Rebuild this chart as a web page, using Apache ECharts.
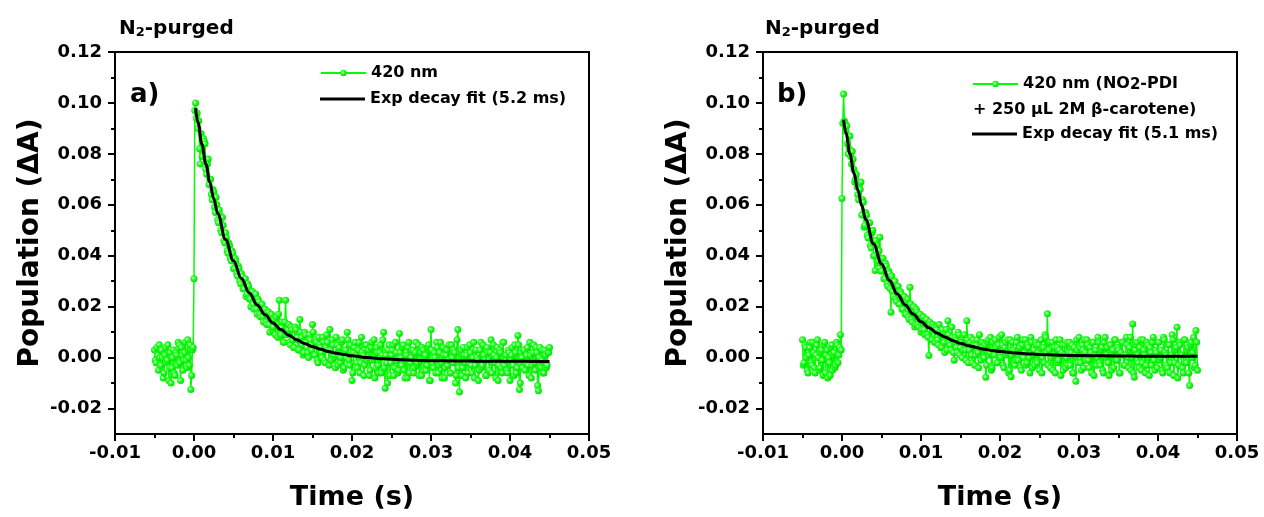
<!DOCTYPE html>
<html>
<head>
<meta charset="utf-8">
<script src="https://cdn.jsdelivr.net/npm/echarts@6/dist/echarts.min.js"></script>
<style>html,body{margin:0;padding:0;background:#fff;}#c{width:1264px;height:517px;}</style>
</head>
<body>
<div id="c"></div>
<script>
// ---- data ----
// samples on the even 0.2 ms grid
const time = [
-0.0050,-0.0048,-0.0046,-0.0044,-0.0042,-0.0040,-0.0038,-0.0036,-0.0034,-0.0032,
-0.0030,-0.0028,-0.0026,-0.0024,-0.0022,-0.0020,-0.0018,-0.0016,-0.0014,-0.0012,
-0.0010,-0.0008,-0.0006,-0.0004,-0.0002,
0.0000,0.0002,0.0004,0.0006,0.0008,0.0010,0.0012,0.0014,0.0016,0.0018,
0.0020,0.0022,0.0024,0.0026,0.0028,0.0030,0.0032,0.0034,0.0036,0.0038,
0.0040,0.0042,0.0044,0.0046,0.0048,0.0050,0.0052,0.0054,0.0056,0.0058,
0.0060,0.0062,0.0064,0.0066,0.0068,0.0070,0.0072,0.0074,0.0076,0.0078,
0.0080,0.0082,0.0084,0.0086,0.0088,0.0090,0.0092,0.0094,0.0096,0.0098,
0.0100,0.0102,0.0104,0.0106,0.0108,0.0110,0.0112,0.0114,0.0116,0.0118,
0.0120,0.0122,0.0124,0.0126,0.0128,0.0130,0.0132,0.0134,0.0136,0.0138,
0.0140,0.0142,0.0144,0.0146,0.0148,0.0150,0.0152,0.0154,0.0156,0.0158,
0.0160,0.0162,0.0164,0.0166,0.0168,0.0170,0.0172,0.0174,0.0176,0.0178,
0.0180,0.0182,0.0184,0.0186,0.0188,0.0190,0.0192,0.0194,0.0196,0.0198,
0.0200,0.0202,0.0204,0.0206,0.0208,0.0210,0.0212,0.0214,0.0216,0.0218,
0.0220,0.0222,0.0224,0.0226,0.0228,0.0230,0.0232,0.0234,0.0236,0.0238,
0.0240,0.0242,0.0244,0.0246,0.0248,0.0250,0.0252,0.0254,0.0256,0.0258,
0.0260,0.0262,0.0264,0.0266,0.0268,0.0270,0.0272,0.0274,0.0276,0.0278,
0.0280,0.0282,0.0284,0.0286,0.0288,0.0290,0.0292,0.0294,0.0296,0.0298,
0.0300,0.0302,0.0304,0.0306,0.0308,0.0310,0.0312,0.0314,0.0316,0.0318,
0.0320,0.0322,0.0324,0.0326,0.0328,0.0330,0.0332,0.0334,0.0336,0.0338,
0.0340,0.0342,0.0344,0.0346,0.0348,0.0350,0.0352,0.0354,0.0356,0.0358,
0.0360,0.0362,0.0364,0.0366,0.0368,0.0370,0.0372,0.0374,0.0376,0.0378,
0.0380,0.0382,0.0384,0.0386,0.0388,0.0390,0.0392,0.0394,0.0396,0.0398,
0.0400,0.0402,0.0404,0.0406,0.0408,0.0410,0.0412,0.0414,0.0416,0.0418,
0.0420,0.0422,0.0424,0.0426,0.0428,0.0430,0.0432,0.0434,0.0436,0.0438,
0.0440,0.0442,0.0444,0.0446,0.0448,0.0450
];
// samples on the odd 0.1 ms offsets
const timeOdd = [
-0.0049,-0.0047,-0.0045,-0.0043,-0.0041,-0.0039,-0.0037,-0.0035,-0.0033,-0.0031,
-0.0029,-0.0027,-0.0025,-0.0023,-0.0021,-0.0019,-0.0017,-0.0015,-0.0013,-0.0011,
-0.0009,-0.0007,-0.0005,-0.0003,-0.0001,
0.0001,0.0003,0.0005,0.0007,0.0009,0.0011,0.0013,0.0015,0.0017,0.0019,
0.0021,0.0023,0.0025,0.0027,0.0029,0.0031,0.0033,0.0035,0.0037,0.0039,
0.0041,0.0043,0.0045,0.0047,0.0049,0.0051,0.0053,0.0055,0.0057,0.0059,
0.0061,0.0063,0.0065,0.0067,0.0069,0.0071,0.0073,0.0075,0.0077,0.0079,
0.0081,0.0083,0.0085,0.0087,0.0089,0.0091,0.0093,0.0095,0.0097,0.0099,
0.0101,0.0103,0.0105,0.0107,0.0109,0.0111,0.0113,0.0115,0.0117,0.0119,
0.0121,0.0123,0.0125,0.0127,0.0129,0.0131,0.0133,0.0135,0.0137,0.0139,
0.0141,0.0143,0.0145,0.0147,0.0149,0.0151,0.0153,0.0155,0.0157,0.0159,
0.0161,0.0163,0.0165,0.0167,0.0169,0.0171,0.0173,0.0175,0.0177,0.0179,
0.0181,0.0183,0.0185,0.0187,0.0189,0.0191,0.0193,0.0195,0.0197,0.0199,
0.0201,0.0203,0.0205,0.0207,0.0209,0.0211,0.0213,0.0215,0.0217,0.0219,
0.0221,0.0223,0.0225,0.0227,0.0229,0.0231,0.0233,0.0235,0.0237,0.0239,
0.0241,0.0243,0.0245,0.0247,0.0249,0.0251,0.0253,0.0255,0.0257,0.0259,
0.0261,0.0263,0.0265,0.0267,0.0269,0.0271,0.0273,0.0275,0.0277,0.0279,
0.0281,0.0283,0.0285,0.0287,0.0289,0.0291,0.0293,0.0295,0.0297,0.0299,
0.0301,0.0303,0.0305,0.0307,0.0309,0.0311,0.0313,0.0315,0.0317,0.0319,
0.0321,0.0323,0.0325,0.0327,0.0329,0.0331,0.0333,0.0335,0.0337,0.0339,
0.0341,0.0343,0.0345,0.0347,0.0349,0.0351,0.0353,0.0355,0.0357,0.0359,
0.0361,0.0363,0.0365,0.0367,0.0369,0.0371,0.0373,0.0375,0.0377,0.0379,
0.0381,0.0383,0.0385,0.0387,0.0389,0.0391,0.0393,0.0395,0.0397,0.0399,
0.0401,0.0403,0.0405,0.0407,0.0409,0.0411,0.0413,0.0415,0.0417,0.0419,
0.0421,0.0423,0.0425,0.0427,0.0429,0.0431,0.0433,0.0435,0.0437,0.0439,
0.0441,0.0443,0.0445,0.0447,0.0449
];

const popA = [
0.0030,-0.0020,0.0010,0.0050,-0.0030,0.0000,-0.0060,0.0040,-0.0010,-0.0090,
0.0020,-0.0040,0.0030,-0.0070,0.0010,0.0060,-0.0020,0.0040,-0.0050,0.0020,
-0.0010,0.0070,-0.0030,-0.0125,0.0030,
0.0310,0.1000,
0.0960,0.0930,0.0760,0.0790,0.0860,0.0840,0.0720,0.0780,0.0700,0.0640,
0.0660,0.0590,0.0630,0.0540,0.0580,0.0500,0.0550,0.0460,0.0490,0.0420,
0.0450,0.0390,0.0420,0.0350,0.0390,0.0330,0.0360,0.0300,0.0330,0.0270,
0.0300,0.0240,0.0290,0.0230,0.0200,0.0260,0.0190,0.0250,0.0170,0.0220,
0.0160,0.0210,0.0140,0.0190,0.0130,0.0180,0.0100,0.0170,0.0120,0.0150,
0.0160,0.0080,0.0225,0.0090,0.0140,0.0060,0.0225,0.0100,0.0130,0.0050,
0.0110,0.0040,0.0120,0.0070,0.0030,0.0150,0.0080,0.0010,0.0100,0.0060,
0.0020,0.0090,0.0050,0.0130,0.0010,0.0070,-0.0010,0.0080,0.0040,0.0000,
0.0060,-0.0020,0.0090,0.0030,0.0110,-0.0010,0.0050,0.0010,0.0080,-0.0030,
0.0040,0.0000,0.0070,-0.0040,0.0030,0.0100,-0.0010,0.0050,-0.0090,0.0020,
0.0060,-0.0020,0.0030,-0.0060,0.0080,0.0010,-0.0030,0.0050,0.0000,-0.0070,
0.0040,-0.0010,0.0070,-0.0040,0.0020,-0.0060,0.0050,0.0010,0.0100,-0.0120,
-0.0020,0.0030,-0.0070,0.0010,0.0050,-0.0040,0.0020,-0.0060,0.0095,0.0000,
0.0040,-0.0050,0.0010,-0.0080,0.0060,-0.0020,0.0030,-0.0060,0.0020,-0.0030,
0.0050,-0.0010,-0.0070,0.0030,0.0000,-0.0050,0.0040,-0.0090,0.0110,-0.0020,
0.0020,-0.0060,0.0040,-0.0030,0.0060,-0.0080,0.0010,-0.0040,0.0030,-0.0010,
-0.0060,0.0050,-0.0020,0.0020,-0.0070,0.0110,-0.0135,0.0030,-0.0040,0.0010,
-0.0080,0.0040,-0.0020,0.0020,-0.0060,0.0060,-0.0030,0.0000,-0.0090,0.0030,
-0.0040,0.0050,-0.0010,-0.0070,0.0020,-0.0050,0.0070,-0.0020,0.0010,-0.0080,
0.0040,-0.0030,0.0020,-0.0060,0.0060,-0.0010,-0.0050,0.0030,-0.0090,0.0010,
-0.0030,0.0050,-0.0060,0.0087,-0.0125,0.0020,-0.0040,0.0030,-0.0020,0.0040,
-0.0070,0.0010,-0.0030,0.0050,-0.0050,0.0020,-0.0130,0.0040,-0.0010,-0.0060,
0.0030,-0.0040,0.0020,0.0040
];
const popAOdd = [
-0.0010,0.0040,-0.0050,0.0000,0.0030,-0.0080,0.0010,-0.0020,0.0050,-0.0040,
-0.0100,0.0000,-0.0060,0.0020,-0.0030,0.0050,-0.0090,0.0010,-0.0010,0.0060,
-0.0040,0.0000,0.0050,-0.0070,0.0040,
0.0970,0.0940,0.0900,0.0820,0.0880,0.0790,0.0850,0.0740,0.0760,0.0680,
0.0700,0.0620,0.0650,0.0570,0.0600,0.0530,0.0560,0.0490,0.0520,0.0450,
0.0470,0.0410,0.0440,0.0380,0.0410,0.0350,0.0380,0.0320,0.0350,0.0290,
0.0320,0.0270,0.0310,0.0250,0.0280,0.0230,0.0260,0.0210,0.0240,0.0190,
0.0230,0.0170,0.0200,0.0160,0.0190,0.0140,0.0180,0.0130,0.0160,0.0110,
0.0150,0.0090,0.0130,0.0170,0.0080,0.0120,0.0060,0.0140,0.0090,0.0110,
0.0060,0.0120,0.0070,0.0040,0.0110,0.0080,0.0030,0.0100,0.0050,0.0020,
0.0090,0.0040,0.0000,0.0070,0.0030,0.0100,0.0010,0.0060,-0.0020,0.0050,
0.0020,0.0080,-0.0010,0.0040,0.0060,-0.0030,0.0030,0.0070,0.0000,-0.0040,
0.0050,0.0010,-0.0020,0.0060,-0.0050,0.0030,0.0000,0.0070,-0.0030,0.0020,
-0.0060,0.0040,0.0010,-0.0040,0.0060,-0.0020,0.0020,-0.0070,0.0050,-0.0010,
0.0030,-0.0050,0.0060,0.0000,-0.0080,0.0040,-0.0030,0.0020,-0.0060,0.0070,
-0.0040,0.0010,-0.0100,0.0050,-0.0020,0.0030,-0.0070,0.0060,-0.0010,-0.0050,
0.0020,-0.0030,0.0050,-0.0080,0.0010,0.0040,-0.0060,0.0000,0.0030,-0.0040,
0.0060,-0.0020,-0.0070,0.0020,0.0040,-0.0050,0.0010,-0.0030,0.0050,-0.0090,
0.0030,-0.0040,0.0000,0.0060,-0.0060,0.0020,-0.0020,0.0040,-0.0080,0.0010,
-0.0030,0.0050,-0.0060,0.0000,0.0030,-0.0100,0.0070,-0.0040,0.0020,-0.0070,
0.0040,-0.0020,0.0010,-0.0060,0.0050,-0.0030,0.0000,-0.0080,0.0030,-0.0010,
-0.0050,0.0060,-0.0030,0.0010,-0.0070,0.0040,-0.0010,0.0020,-0.0060,0.0050,
-0.0020,0.0000,-0.0090,0.0030,-0.0040,0.0060,-0.0030,0.0010,-0.0060,0.0020,
-0.0010,0.0040,-0.0070,0.0020,-0.0040,0.0050,-0.0100,0.0000,0.0030,-0.0050,
0.0010,-0.0030,0.0060,-0.0080,0.0020,-0.0020,0.0040,-0.0110,0.0000,-0.0040,
0.0030,-0.0060,0.0010,-0.0030,0.0020
];

const popB = [
0.0070,-0.0020,0.0040,-0.0050,0.0010,0.0060,-0.0030,0.0020,-0.0060,0.0050,
0.0000,-0.0040,0.0030,-0.0070,0.0060,0.0010,-0.0080,-0.0020,0.0040,-0.0050,
0.0020,-0.0030,0.0050,0.0010,0.0090,
0.0625,0.1035,
0.0920,0.0910,0.0800,0.0870,0.0760,0.0780,0.0690,0.0720,0.0640,0.0680,
0.0690,0.0620,0.0512,0.0570,0.0480,0.0530,0.0440,0.0490,0.0400,0.0342,
0.0440,0.0380,0.0473,0.0340,0.0390,0.0310,0.0360,0.0280,0.0330,0.0178,
0.0260,0.0300,0.0230,0.0280,0.0210,0.0260,0.0190,0.0240,0.0170,0.0220,
0.0160,0.0276,0.0150,0.0200,0.0120,0.0190,0.0130,0.0170,0.0100,0.0160,
0.0110,0.0150,0.0090,0.0008,0.0130,0.0070,0.0120,0.0060,0.0110,0.0050,
0.0100,0.0040,0.0090,0.0020,0.0110,0.0145,0.0060,0.0030,0.0080,-0.0010,
0.0070,0.0020,0.0090,0.0040,0.0000,0.0080,0.0030,0.0145,-0.0020,0.0060,
0.0010,0.0070,-0.0030,0.0050,0.0020,0.0090,-0.0010,0.0040,0.0000,-0.0077,
0.0060,0.0010,0.0080,-0.0040,0.0030,0.0070,-0.0020,0.0050,0.0000,0.0090,
-0.0030,0.0040,0.0010,0.0070,-0.0050,-0.0075,0.0060,0.0020,-0.0010,0.0080,
0.0030,-0.0040,0.0050,0.0000,0.0070,-0.0020,0.0040,-0.0060,0.0060,0.0010,
-0.0030,0.0050,0.0020,-0.0050,0.0070,0.0000,-0.0020,0.0080,0.0172,0.0030,
-0.0040,0.0060,0.0010,-0.0060,0.0040,-0.0010,0.0070,0.0020,-0.0050,0.0050,
0.0000,-0.0030,0.0060,0.0020,-0.0060,0.0040,-0.0093,0.0030,0.0080,-0.0020,
0.0050,-0.0040,0.0020,0.0070,-0.0010,0.0040,-0.0060,0.0060,0.0010,-0.0030,
0.0080,-0.0020,0.0030,-0.0050,0.0060,0.0000,0.0040,-0.0070,0.0050,0.0020,
-0.0040,0.0070,-0.0010,0.0030,-0.0060,0.0060,0.0010,-0.0030,0.0080,0.0000,
0.0040,-0.0050,0.0132,-0.0077,0.0050,0.0010,-0.0040,0.0070,-0.0020,0.0030,
-0.0060,0.0060,0.0000,0.0040,-0.0030,0.0080,-0.0050,0.0020,0.0060,-0.0010,
0.0030,-0.0060,0.0070,0.0010,-0.0040,0.0050,-0.0020,0.0090,-0.0070,0.0030,
0.0119,-0.0030,0.0050,0.0010,-0.0060,0.0070,-0.0020,0.0040,-0.0110,0.0060,
0.0020,-0.0040,0.0106,-0.0050
];
const popBOdd = [
-0.0030,0.0050,0.0000,-0.0060,0.0040,-0.0020,0.0060,-0.0040,0.0010,0.0070,
-0.0050,0.0020,-0.0010,0.0050,-0.0060,0.0030,0.0000,-0.0070,0.0050,0.0010,
-0.0040,0.0060,-0.0020,0.0040,0.0030,
0.0920,0.0930,0.0890,0.0840,0.0820,0.0790,0.0810,0.0740,0.0700,0.0670,
0.0620,0.0660,0.0560,0.0610,0.0520,0.0560,0.0470,0.0530,0.0430,0.0500,
0.0400,0.0460,0.0370,0.0420,0.0340,0.0390,0.0310,0.0370,0.0290,0.0340,
0.0270,0.0320,0.0240,0.0300,0.0220,0.0280,0.0210,0.0250,0.0190,0.0240,
0.0170,0.0230,0.0150,0.0210,0.0140,0.0200,0.0130,0.0180,0.0120,0.0170,
0.0110,0.0160,0.0090,0.0150,0.0080,0.0140,0.0070,0.0130,0.0060,0.0120,
0.0070,0.0130,0.0040,0.0110,0.0060,0.0100,0.0030,0.0090,0.0050,0.0120,
0.0020,0.0080,0.0040,0.0100,0.0010,0.0060,0.0030,0.0090,-0.0010,0.0070,
0.0030,0.0080,-0.0020,0.0050,0.0010,0.0070,-0.0040,0.0040,0.0060,0.0000,
0.0050,-0.0030,0.0070,0.0020,-0.0050,0.0060,0.0010,0.0040,-0.0020,0.0080,
0.0000,0.0050,-0.0040,0.0060,0.0020,-0.0060,0.0070,0.0010,0.0030,-0.0030,
0.0060,-0.0010,0.0040,-0.0050,0.0070,0.0020,-0.0030,0.0050,0.0000,0.0080,
-0.0040,0.0030,0.0060,-0.0020,0.0050,0.0010,-0.0060,0.0040,0.0090,0.0020,
-0.0030,0.0060,0.0000,-0.0050,0.0040,0.0070,-0.0020,0.0030,-0.0070,0.0050,
0.0010,-0.0040,0.0060,0.0020,-0.0030,0.0050,-0.0060,0.0010,0.0070,-0.0020,
0.0040,-0.0050,0.0030,0.0070,-0.0010,0.0050,-0.0040,0.0020,0.0060,-0.0070,
0.0030,0.0000,0.0060,-0.0030,0.0040,-0.0060,0.0080,0.0010,-0.0020,0.0050,
-0.0050,0.0030,0.0070,-0.0010,0.0040,-0.0060,0.0020,0.0060,-0.0030,0.0010,
0.0050,-0.0040,0.0080,0.0000,-0.0060,0.0030,0.0060,-0.0020,0.0040,-0.0050,
0.0070,0.0010,-0.0030,0.0050,-0.0070,0.0020,0.0060,-0.0010,0.0030,-0.0040,
0.0060,0.0000,-0.0050,0.0080,0.0020,-0.0030,0.0050,-0.0060,0.0010,0.0070,
-0.0020,0.0040,-0.0080,0.0060,0.0010,-0.0040,0.0070,-0.0020,0.0030,-0.0060,
0.0050,0.0000,0.0080,-0.0030,0.0060
];

const fitTime = [0.0002,0.0005,0.0010,0.0015,0.0020,0.0025,0.0030,0.0040,0.0050,0.0060,
0.0070,0.0080,0.0090,0.0100,0.0110,0.0120,0.0130,0.0140,0.0150,0.0160,
0.0170,0.0180,0.0190,0.0200,0.0220,0.0240,0.0260,0.0280,0.0300,0.0330,
0.0360,0.0400,0.0450];
const fitA = [0.0980,0.0924,0.0838,0.0760,0.0689,0.0624,0.0566,0.0464,0.0380,0.0311,
0.0254,0.0207,0.0168,0.0136,0.0110,0.0088,0.0070,0.0055,0.0043,0.0033,
0.0024,0.0017,0.0012,0.0007,0.0000,-0.0005,-0.0008,-0.0010,-0.0012,-0.0013,
-0.0014,-0.0014,-0.0015];
const fitB = [0.0935,0.0882,0.0800,0.0726,0.0658,0.0597,0.0542,0.0446,0.0368,0.0303,
0.0250,0.0207,0.0171,0.0141,0.0117,0.0097,0.0081,0.0067,0.0056,0.0047,
0.0040,0.0033,0.0028,0.0024,0.0018,0.0014,0.0011,0.0009,0.0008,0.0007,
0.0006,0.0005,0.0005];

const yMajor = [-0.02,0.00,0.02,0.04,0.06,0.08,0.10,0.12];
const yMinor = [-0.01,0.01,0.03,0.05,0.07,0.09,0.11];
const nameA = '420 nm', fitNameA = 'Exp decay fit (5.2 ms)';
const nameB = '420 nm (NO2-PDI', fitNameB = 'Exp decay fit (5.1 ms)';

// ---- chart ----
const FF = 'DejaVu Sans';
const txt = (size) => ({fontFamily: FF, fontWeight: 'bold', fontSize: size, color: '#000'});
const grids = [
  {left: 115, top: 52, width: 474, height: 382},
  {left: 763, top: 52, width: 474, height: 382}
];
grids.forEach(g => { g.show = true; g.borderColor = '#000'; g.borderWidth = 2; g.backgroundColor = 'transparent'; });

function xAxisFor(gi) {
  return {
    type: 'value', gridIndex: gi, min: -0.01, max: 0.05, interval: 0.01,
    axisLine: {show: true, onZero: false, lineStyle: {color: '#000', width: 2}},
    axisTick: {show: true, length: 7, lineStyle: {color: '#000', width: 2}},
    minorTick: {show: true, splitNumber: 2, length: 4, lineStyle: {color: '#000', width: 2}},
    axisLabel: Object.assign({margin: 10, formatter: v => v.toFixed(2)}, txt(18)),
    splitLine: {show: false}, minorSplitLine: {show: false},
    name: 'Time (s)', nameLocation: 'middle', nameGap: 50,
    nameTextStyle: txt(27)
  };
}
function yAxesFor(gi) {
  return [{
    type: 'value', gridIndex: gi, min: -0.03, max: 0.12, position: 'left', offset: 0,
    axisLine: {show: true, onZero: false, lineStyle: {color: '#000', width: 2}},
    axisTick: {show: true, customValues: yMajor, length: 7, lineStyle: {color: '#000', width: 2}},
    axisLabel: Object.assign({customValues: yMajor, margin: 13, formatter: v => v.toFixed(2)}, txt(18)),
    splitLine: {show: false},
    name: 'Population (ΔA)', nameLocation: 'middle', nameGap: 70,
    nameTextStyle: txt(28)
  }, {
    type: 'value', gridIndex: gi, min: -0.03, max: 0.12, position: 'left', offset: 0,
    axisLine: {show: false, onZero: false},
    axisTick: {show: true, customValues: yMinor, length: 4, lineStyle: {color: '#000', width: 2}},
    axisLabel: {show: false}, splitLine: {show: false}
  }];
}

const ballColor = {
  type: 'radial', x: 0.4, y: 0.4, r: 0.6,
  colorStops: [{offset: 0, color: '#d8ffd8'}, {offset: 0.45, color: '#22ff22'}, {offset: 1, color: '#00e000'}]
};
function dataSeries(name, tEven, vEven, tOdd, vOdd, gi) {
  const pts = tEven.map((t, i) => [t, vEven[i]]).concat(tOdd.map((t, i) => [t, vOdd[i]]));
  pts.sort((p, q) => p[0] - q[0]);
  return {
    name, type: 'line', xAxisIndex: gi, yAxisIndex: gi * 2,
    data: pts,
    symbol: 'circle', symbolSize: 7, showSymbol: true,
    lineStyle: {color: '#00ff00', width: 1.5},
    itemStyle: {color: ballColor, borderWidth: 0},
    z: 2
  };
}
function fitSeries(name, values, gi) {
  return {
    name, type: 'line', xAxisIndex: gi, yAxisIndex: gi * 2,
    data: fitTime.map((t, i) => [t, values[i]]),
    symbol: 'none', smooth: 0.4, smoothMonotone: 'x',
    lineStyle: {color: '#000', width: 3},
    itemStyle: {color: '#000'},
    z: 3
  };
}

const legendText = Object.assign({lineHeight: 18, rich: {s: {fontFamily: FF, fontWeight: 'bold', fontSize: 15, color: '#000', padding: [11, 0, 0, 0], lineHeight: 15, verticalAlign: 'bottom'}}}, txt(16));
const legendData = (name, left, top) => ({
  data: [name], left, top, orient: 'vertical', padding: 0, itemWidth: 45, itemHeight: 8, itemGap: 0,
  selectedMode: false, textStyle: legendText
});
const legendFit = (name, left, top) => ({
  data: [{name, icon: 'rect'}], left, top, orient: 'vertical', padding: 0, itemWidth: 45, itemHeight: 3, itemGap: 0,
  selectedMode: false, itemStyle: {color: '#000'}, textStyle: legendText
});

const titleRich = {
  b: {fontFamily: FF, fontWeight: 'bold', fontSize: 20, color: '#000', lineHeight: 24, verticalAlign: 'bottom'},
  s: {fontFamily: FF, fontWeight: 'bold', fontSize: 13, color: '#000', lineHeight: 13, padding: [10, 0, 0, 0], verticalAlign: 'bottom'}
};

const option = {
  animation: false,
  backgroundColor: '#fff',
  title: [
    {text: '{b|N}{s|2}{b|-purged}', left: 119, top: 15, padding: 0, textStyle: {rich: titleRich}},
    {text: '{b|N}{s|2}{b|-purged}', left: 765, top: 15, padding: 0, textStyle: {rich: titleRich}},
    {text: 'a)', left: 130, top: 82, padding: 0, textStyle: txt(26)},
    {text: 'b)', left: 777, top: 82, padding: 0, textStyle: txt(26)}
  ],
  legend: [
    legendData(nameA, 320, 64),
    legendFit(fitNameA, 320, 90),
    Object.assign(legendData(nameB, 972, 67), {formatter: () => '420 nm (NO{s|2}-PDI'}),
    legendFit(fitNameB, 972, 125)
  ],
  graphic: [{
    type: 'text', left: 973, top: 102,
    style: {text: '+ 250 µL 2M β-carotene)', font: 'bold 16px "DejaVu Sans"', fill: '#000'}
  }],
  grid: grids,
  xAxis: [xAxisFor(0), xAxisFor(1)],
  yAxis: yAxesFor(0).concat(yAxesFor(1)),
  series: [
    dataSeries(nameA, time, popA, timeOdd, popAOdd, 0),
    fitSeries(fitNameA, fitA, 0),
    dataSeries(nameB, time, popB, timeOdd, popBOdd, 1),
    fitSeries(fitNameB, fitB, 1)
  ]
};
const chart = echarts.init(document.getElementById('c'), null, {renderer: 'canvas'});
chart.setOption(option);
</script>
</body>
</html>
